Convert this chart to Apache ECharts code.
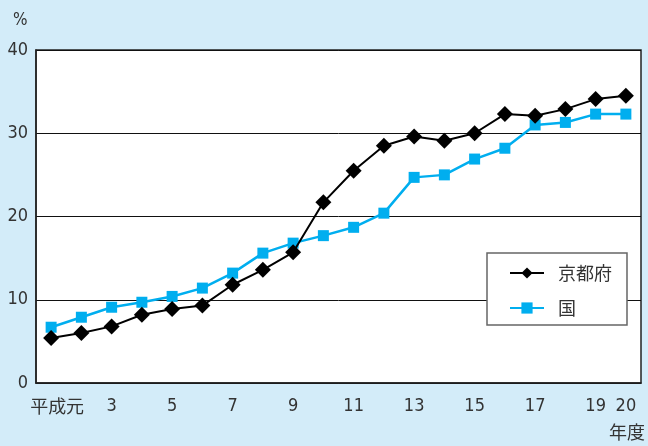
<!DOCTYPE html>
<html>
<head>
<meta charset="utf-8">
<style>
	html, body { margin: 0; padding: 0; background: #d3ecf9; }
	#main { width: 648px; height: 446px; }
</style>
<script src="https://cdn.jsdelivr.net/npm/echarts@6/dist/echarts.min.js"></script>
</head>
<body>
<div id="main"></div>
<script type="text/javascript">
	// 年度（平成元〜20）
	var years = ['平成元', '2', '3', '4', '5', '6', '7', '8', '9', '10',
		'11', '12', '13', '14', '15', '16', '17', '18', '19', '20'];
	// 京都府
	var kyoto = [5.4, 6.0, 6.8, 8.2, 8.9, 9.3, 11.8, 13.6, 15.7, 21.7,
		25.5, 28.5, 29.6, 29.1, 30.0, 32.3, 32.1, 32.9, 34.1, 34.5];
	// 国
	var kuni = [6.7, 7.9, 9.1, 9.7, 10.4, 11.4, 13.2, 15.6, 16.8, 17.7,
		18.7, 20.4, 24.7, 25.0, 26.9, 28.2, 31.0, 31.3, 32.3, 32.3];
	var yTicks = [0, 10, 20, 30, 40];

	var numFont = "'Liberation Sans Narrow', 'DejaVu Sans Condensed', 'Noto Sans CJK JP', sans-serif";
	var jpFont = "'Noto Sans CJK JP', sans-serif";

	var chart = echarts.init(document.getElementById('main'));
	var option = {
		backgroundColor: '#d3ecf9',
		animation: false,
		grid: {
			left: 36, right: 7, top: 50, bottom: 63,
			show: true,
			backgroundColor: '#ffffff',
			borderColor: '#222',
			borderWidth: 1.5
		},
		legend: {
			orient: 'vertical',
			left: 487,
			top: 253,
			padding: [10, 15, 7, 22],
			itemGap: 15,
			itemWidth: 34,
			itemHeight: 14,
			backgroundColor: '#ffffff',
			borderColor: '#666',
			borderWidth: 1.5,
			textStyle: {
				fontFamily: jpFont,
				fontSize: 18,
				lineHeight: 20,
				color: '#333',
				padding: [0, 0, 0, 9]
			},
			data: ['京都府', '国']
		},
		graphic: [
			{ type: 'text', left: 13, top: 12,
				style: { text: '%', fontSize: 17, fontFamily: numFont, fill: '#333' } },
			{ type: 'text', right: 3, top: 423,
				style: { text: '年度', fontSize: 18, fontFamily: jpFont, fill: '#333' } }
		],
		xAxis: {
			type: 'category',
			data: years,
			boundaryGap: true,
			axisLine: { lineStyle: { color: '#222', width: 1.5 } },
			axisTick: { inside: true, length: 7, interval: 0, lineStyle: { color: '#222', width: 1.5 } },
			axisLabel: {
				interval: function (index) {
					return index === 0 || index % 2 === 0 || index === years.length - 1;
				},
				margin: 14,
				fontSize: 18,
				fontFamily: numFont,
				color: '#333',
				formatter: function (v, i) {
					return i === 0 ? '{first|' + v + '}' : v;
				},
				rich: {
					first: { fontFamily: jpFont, fontSize: 18, color: '#333', padding: [0, 0, 0, 12] }
				}
			}
		},
		yAxis: {
			type: 'value',
			min: yTicks[0],
			max: yTicks[yTicks.length - 1],
			interval: 10,
			axisLine: { show: true, lineStyle: { color: '#222', width: 1.5 } },
			axisTick: { show: false },
			splitLine: { lineStyle: { color: '#111', width: 1 } },
			axisLabel: {
				margin: 8,
				fontSize: 18,
				fontFamily: numFont,
				color: '#333'
			}
		},
		series: [
			{
				name: '京都府',
				type: 'line',
				data: kyoto,
				z: 3,
				symbol: 'diamond',
				symbolSize: 16,
				color: '#000000',
				lineStyle: { width: 2, color: '#000000' },
				itemStyle: { color: '#000000' }
			},
			{
				name: '国',
				type: 'line',
				data: kuni,
				z: 2,
				symbol: 'rect',
				symbolSize: 11,
				color: '#00aeef',
				lineStyle: { width: 2.5, color: '#00aeef' },
				itemStyle: { color: '#00aeef' }
			}
		]
	};
	chart.setOption(option);
</script>
</body>
</html>
